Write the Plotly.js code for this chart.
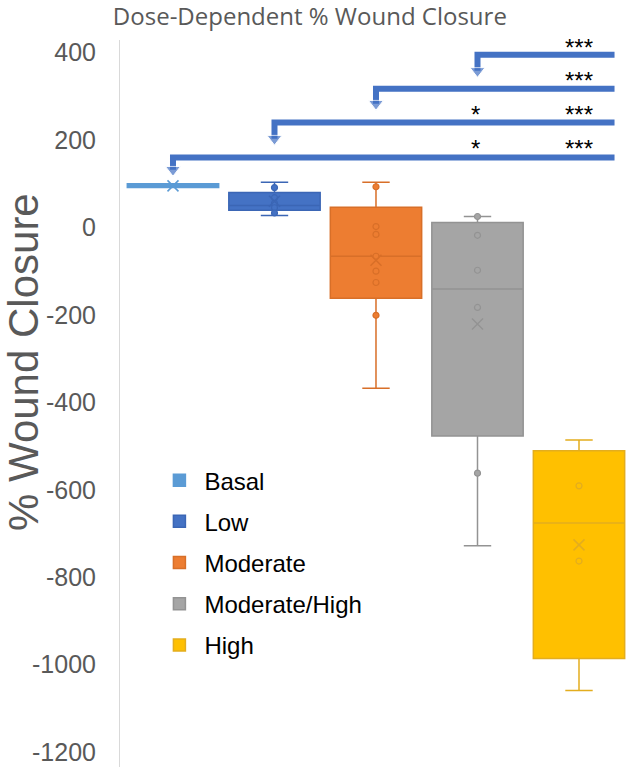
<!DOCTYPE html>
<html><head><meta charset="utf-8">
<script src="https://cdn.plot.ly/plotly-3.0.1.min.js"></script>
<style>html,body{margin:0;padding:0;background:#fff}#chart{width:626px;height:767px}</style>
</head><body><div id="chart"></div>
<script>
// ---- data ----
const groups = ["Basal", "Low", "Moderate", "Moderate/High", "High"];
const lowerFence = [91, 27, -368, -728, -1059];
const q1 = [91, 39, -162, -477, -986];
const median = [95, 50, -66, -141, -676];
const q3 = [100, 80, 46, 11, -511];
const upperFence = [100, 103, 103, 25, -486];
const means = [95, 60, -75, -221, -726];
const pointsBasal = [];
const pointsLow = [91, 68, 55, 45, 33];
const pointsModerate = [93, 2, -16, -66, -100, -126, -201];
const pointsModHigh = [25, -18, -98, -183, -562];
const pointsHigh = [-591, -763];
const yTicks = [400, 200, 0, -200, -400, -600, -800, -1000, -1200];

// significance brackets (from group index -> right edge)
const bracketFrom = [3, 2, 1, 0];
const bracketEnd = 4.35;
const bracketY = [395, 317, 240, 160];
const arrowY = [358, 283, 203, 132];
const starY = [420, 345, 267, 190];
const sigVsHigh = ["***", "***", "***", "***"];
const sigVsModHigh = ["", "", "*", "*"];

// ---- styles ----
const fillColors = ["#5B9BD5", "#4472C4", "#ED7D31", "#A5A5A5", "#FFC000"];
const lineColors = ["#5B9BD5", "#3B66B5", "#D86F28", "#939393", "#E3AD1E"];
const bracketColor = "#4472C4";

const allPoints = [pointsBasal, pointsLow, pointsModerate, pointsModHigh, pointsHigh];
const traces = [];
groups.forEach((g, i) => {
  traces.push({
    type: "box", name: g, x: [i],
    q1: [q1[i]], median: [median[i]], q3: [q3[i]],
    lowerfence: [lowerFence[i]], upperfence: [upperFence[i]],
    width: 0.9, whiskerwidth: 0.3,
    fillcolor: fillColors[i], line: { color: lineColors[i], width: 1.5 },
    boxpoints: false, hoverinfo: "skip", legendgroup: g
  });
});
groups.forEach((g, i) => {
  traces.push({
    type: "scatter", mode: "markers", x: allPoints[i].map(() => i), y: allPoints[i],
    marker: { symbol: "circle", size: 6, color: fillColors[i], line: { color: lineColors[i], width: 1.2 } },
    showlegend: false, hoverinfo: "skip"
  });
  traces.push({
    type: "scatter", mode: "markers", x: [i], y: [means[i]],
    marker: { symbol: "x-thin-open", size: 11, color: lineColors[i], line: { color: lineColors[i], width: 1.5 } },
    showlegend: false, hoverinfo: "skip"
  });
});
bracketFrom.forEach((f, i) => {
  traces.push({
    type: "scatter", mode: "lines+markers",
    x: [bracketEnd, f, f], y: [bracketY[i], bracketY[i], arrowY[i]],
    line: { color: bracketColor, width: 6 },
    marker: { symbol: "triangle-down", size: [0, 0, 13], color: bracketColor },
    showlegend: false, hoverinfo: "skip", cliponaxis: false
  });
});

const starFont = { family: "Liberation Sans, Arial", size: 24, color: "#000" };
const annotations = [];
starY.forEach((y, i) => {
  annotations.push({ x: 4.0, y: y, xref: "x", yref: "y", text: sigVsHigh[i], showarrow: false, yshift: -4, font: starFont });
  if (sigVsModHigh[i]) annotations.push({ x: 2.98, y: y, xref: "x", yref: "y", text: sigVsModHigh[i], showarrow: false, yshift: -4, font: starFont });
});
// y-axis title
annotations.push({ text: "% Wound Closure", textangle: -90, showarrow: false,
  xref: "paper", yref: "paper", x: (23 - 120) / 506, y: (767 - 362) / 727, xanchor: "center", yanchor: "middle",
  font: { family: "Liberation Sans, Arial", size: 42, color: "#595959" } });

const layout = {
  width: 626, height: 767,
  margin: { l: 120, r: 0, t: 40, b: 0, pad: 0 },
  paper_bgcolor: "#fff", plot_bgcolor: "#fff",
  title: { text: "Dose-Dependent % Wound Closure", font: { family: "Open Sans", size: 24, color: "#595959" },
    x: 0.495, xref: "container", xanchor: "center", y: 1 - 17 / 767, yref: "container", yanchor: "middle" },
  xaxis: { range: [-0.522, 4.463], visible: false },
  yaxis: { range: [-1234, 428.6], tickvals: yTicks, ticktext: yTicks.map(String), showgrid: false, zeroline: false,
    showline: true, linecolor: "#D9D9D9", linewidth: 1, ticks: "", ticklabelstandoff: 18, ticklabeloverflow: "allow",
    tickfont: { family: "Liberation Sans, Arial", size: 25, color: "#595959" } },
  showlegend: true,
  legend: { x: 0.068, y: 0.425, xanchor: "left", yanchor: "top", bgcolor: "rgba(0,0,0,0)",
    font: { family: "Liberation Sans, Arial", size: 24, color: "#000" }, traceorder: "grouped", tracegroupgap: 7, itemwidth: 40 },
  annotations: annotations,
  boxmode: "overlay"
};
Plotly.newPlot("chart", traces, layout, { displayModeBar: false, staticPlot: true });
</script></body></html>
